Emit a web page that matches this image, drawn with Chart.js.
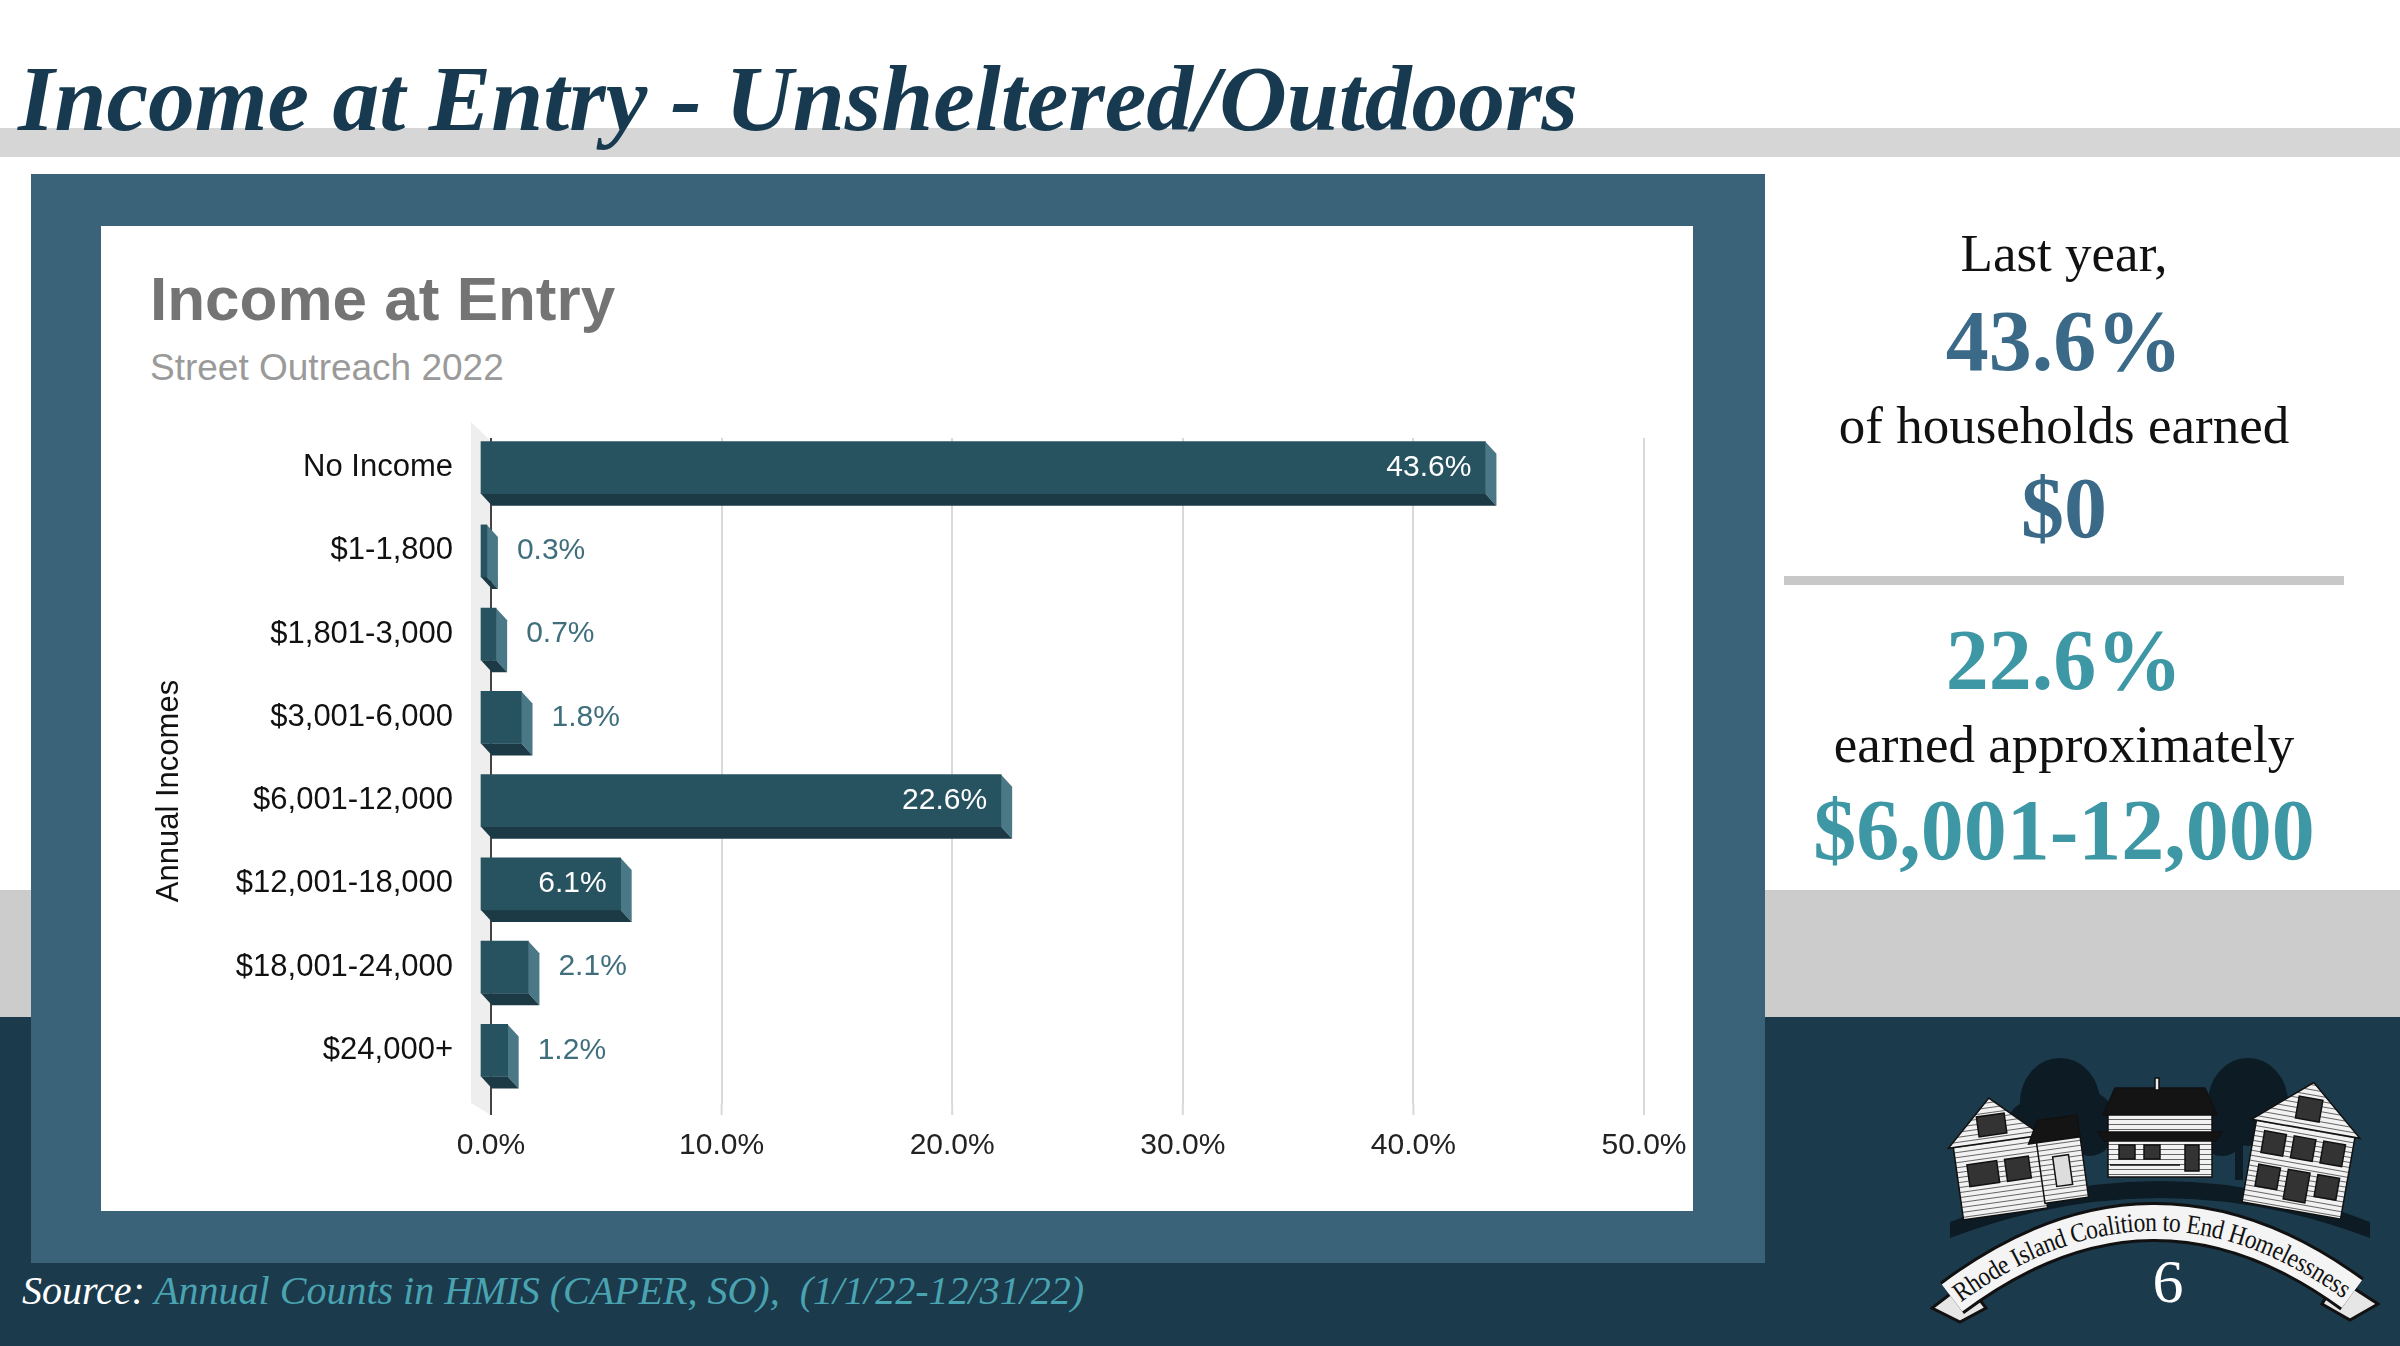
<!DOCTYPE html>
<html>
<head>
<meta charset="utf-8">
<script src="https://cdn.jsdelivr.net/npm/chart.js@4.4.1/dist/chart.umd.min.js"></script>
<style>
  html, body { margin: 0; padding: 0; }
  body { width: 2400px; height: 1346px; position: relative; overflow: hidden; background: #fff; font-family: "Liberation Serif", serif; }
  .abs { position: absolute; }
  #band1 { left: 0; top: 128px; width: 2400px; height: 29px; background: #d6d6d6; }
  #title { left: 18px; top: 52px; font: bold italic 93.6px/1 "Liberation Serif", serif; color: #173a50; white-space: nowrap; }
  #band2 { left: 0; top: 890px; width: 2400px; height: 127px; background: #cccccc; }
  #navy { left: 0; top: 1017px; width: 2400px; height: 329px; background: #1b3a4c; }
  #panel { left: 31px; top: 174px; width: 1734px; height: 1089px; background: #3a6278; }
  #card { left: 101px; top: 226px; width: 1592px; height: 985px; background: #fff; }
  #ctitle { left: 150px; top: 268px; font: bold 62px/1 "Liberation Sans", Arial, sans-serif; color: #747474; white-space: nowrap; }
  #csub { left: 150px; top: 349px; font: 37px/1 "Liberation Sans", Arial, sans-serif; color: #9a9a9a; white-space: nowrap; }
  #chartbox { left: 101px; top: 226px; width: 1592px; height: 985px; }
  .side { left: 1764px; width: 600px; text-align: center; white-space: nowrap; }
  .reg { font: 53px/1 "Liberation Serif", serif; color: #111; }
  .big { font: bold 86px/1 "Liberation Serif", serif; }
  .steel { color: #3a6a88; }
  .teal { color: #3e97a5; }
  #rule { left: 1784px; top: 576px; width: 560px; height: 9px; background: #c8c8c8; }
  #source { left: 22px; top: 1271px; font: italic 40px/1 "Liberation Serif", serif; color: #fff; white-space: nowrap; }
  #source span { color: #4aa3b0; }
  #logo { left: 1930px; top: 1040px; width: 460px; height: 300px; }
</style>
</head>
<body>
<div class="abs" id="band1"></div>
<div class="abs" id="title">Income at Entry - Unsheltered/Outdoors</div>
<div class="abs" id="band2"></div>
<div class="abs" id="navy"></div>
<div class="abs" id="panel"></div>
<div class="abs" id="card"></div>
<div class="abs" id="ctitle">Income at Entry</div>
<div class="abs" id="csub">Street Outreach 2022</div>
<div class="abs" id="chartbox"><canvas id="barChart"></canvas></div>

<div class="abs side reg" style="top:227px">Last year,</div>
<div class="abs side big steel" style="top:298px">43.6%</div>
<div class="abs side reg" style="top:399px">of households earned</div>
<div class="abs side big steel" style="top:465px">$0</div>
<div class="abs" id="rule"></div>
<div class="abs side big teal" style="top:617px">22.6%</div>
<div class="abs side reg" style="top:718px">earned approximately</div>
<div class="abs side big teal" style="top:787px">$6,001-12,000</div>

<div class="abs" id="source">Source: <span>Annual Counts in HMIS (CAPER, SO),&nbsp; (1/1/22-12/31/22)</span></div>

<svg class="abs" id="logo" viewBox="0 0 460 300" xmlns="http://www.w3.org/2000/svg">
  <defs>
    <pattern id="siding" width="6" height="5" patternUnits="userSpaceOnUse">
      <rect width="6" height="5" fill="#f2f2f2"/>
      <line x1="0" y1="4.5" x2="6" y2="4.5" stroke="#555" stroke-width="0.9"/>
    </pattern>
    <path id="rib" d="M 22 258 Q 222 108 422 254"/>
  </defs>
  <!-- trees -->
  <g fill="#0d1b25">
    <ellipse cx="130" cy="62" rx="40" ry="44"/>
    <ellipse cx="104" cy="88" rx="28" ry="28"/>
    <ellipse cx="160" cy="84" rx="26" ry="32"/>
    <rect x="136" y="90" width="8" height="50"/>
    <ellipse cx="318" cy="62" rx="40" ry="44"/>
    <ellipse cx="292" cy="86" rx="26" ry="30"/>
    <ellipse cx="345" cy="88" rx="28" ry="28"/>
    <rect x="305" y="90" width="8" height="50"/>
    <path d="M 20 182 Q 230 100 440 182 L 440 198 Q 230 118 20 198 Z"/>
  </g>
  <!-- center house -->
  <g stroke="#111" stroke-width="1.5">
    <polygon points="185,48 275,48 287,75 173,75" fill="#141414"/>
    <rect x="225" y="38" width="4" height="12" fill="#eee"/>
    <rect x="178" y="75" width="104" height="62" fill="url(#siding)"/>
    <polygon points="168,92 292,92 286,101 174,101" fill="#141414"/>
    <rect x="189" y="105" width="16" height="14" fill="#333"/>
    <rect x="214" y="105" width="16" height="14" fill="#333"/>
    <rect x="255" y="105" width="14" height="26" fill="#333"/>
    <line x1="180" y1="125" x2="250" y2="125"/>
  </g>
  <!-- left house -->
  <g stroke="#111" stroke-width="1.5" transform="rotate(-8 85 115)">
    <rect x="25" y="97" width="85" height="75" fill="url(#siding)"/>
    <polygon points="20,99 67,55 114,99" fill="url(#siding)"/>
    <rect x="108" y="105" width="44" height="62" fill="url(#siding)"/>
    <polygon points="100,106 112,84 152,84 152,106" fill="#141414"/>
    <rect x="52" y="72" width="28" height="20" fill="#333"/>
    <rect x="36" y="118" width="30" height="22" fill="#333"/>
    <rect x="74" y="118" width="24" height="22" fill="#333"/>
    <rect x="122" y="122" width="16" height="30" fill="#ddd"/>
  </g>
  <!-- right house -->
  <g stroke="#111" stroke-width="1.5" transform="rotate(10 375 110)">
    <rect x="322" y="86" width="100" height="86" fill="url(#siding)"/>
    <polygon points="317,89 372,42 427,89" fill="url(#siding)"/>
    <rect x="360" y="58" width="24" height="22" fill="#333"/>
    <rect x="332" y="98" width="22" height="22" fill="#333"/>
    <rect x="362" y="98" width="22" height="22" fill="#333"/>
    <rect x="392" y="98" width="22" height="22" fill="#333"/>
    <rect x="332" y="132" width="22" height="22" fill="#333"/>
    <rect x="362" y="132" width="22" height="30" fill="#333"/>
    <rect x="392" y="132" width="22" height="22" fill="#333"/>
  </g>
  <!-- ribbon -->
  <polygon points="36,242 2,268 30,282 56,268" fill="#e6e6e6" stroke="#111" stroke-width="3"/>
  <polygon points="408,238 448,264 420,280 392,264" fill="#e6e6e6" stroke="#111" stroke-width="3"/>
  <use href="#rib" fill="none" stroke="#111" stroke-width="40"/>
  <use href="#rib" fill="none" stroke="#f4f4f4" stroke-width="34"/>
  <text font-family="Liberation Serif, serif" font-size="27" fill="#111">
    <textPath href="#rib" startOffset="50%" text-anchor="middle" dominant-baseline="central" textLength="425" lengthAdjust="spacingAndGlyphs">Rhode Island Coalition to End Homelessness</textPath>
  </text>
  <text x="238" y="262" font-family="Liberation Serif, serif" font-size="62" fill="#fff" text-anchor="middle">6</text>
</svg>

<script>
  const categories = ["No Income", "$1-1,800", "$1,801-3,000", "$3,001-6,000", "$6,001-12,000", "$12,001-18,000", "$18,001-24,000", "$24,000+"];
  const shares = [43.6, 0.3, 0.7, 1.8, 22.6, 6.1, 2.1, 1.2];
  const xTicks = [0, 10, 20, 30, 40, 50];
  const axisTitle = "Annual Incomes";

  const DX = 11; // depth of the fake 3D boxes
  const DY = 12;

  Chart.defaults.font.family = '"Liberation Sans", Arial, sans-serif';

  // draws the side wall, the box faces, the value labels and the axis title
  const bar3d = {
    id: "bar3d",
    beforeDraw(chart) {
      const { ctx, chartArea: a } = chart;
      ctx.save();
      ctx.fillStyle = "#eeeeee";
      ctx.beginPath();
      ctx.moveTo(a.left - 20, a.top - 16);
      ctx.lineTo(a.left, a.top + 3);
      ctx.lineTo(a.left, a.bottom + 11);
      ctx.lineTo(a.left - 20, a.bottom - 1);
      ctx.closePath();
      ctx.fill();
      ctx.restore();
    },
    beforeDatasetsDraw(chart) {
      const { ctx, chartArea: a } = chart;
      const xs = chart.scales.x;
      // grid lines run a bit below the plot floor
      ctx.save();
      xTicks.forEach((t) => {
        const px = xs.getPixelForValue(t);
        ctx.strokeStyle = t === 0 ? "#444" : "#d9d9d9";
        ctx.lineWidth = 2;
        ctx.beginPath();
        ctx.moveTo(px, a.bottom);
        ctx.lineTo(px, a.bottom + 11);
        ctx.stroke();
      });
      const meta = chart.getDatasetMeta(0);
      meta.data.forEach((el) => {
        const p = el.getProps(["x", "y", "base", "height"], true);
        const top = p.y - p.height / 2;
        const bot = p.y + p.height / 2;
        ctx.fillStyle = "#4b7886";
        ctx.beginPath();
        ctx.moveTo(p.x - DX, top - DY);
        ctx.lineTo(p.x, top);
        ctx.lineTo(p.x, bot);
        ctx.lineTo(p.x - DX, bot - DY);
        ctx.closePath();
        ctx.fill();
        ctx.fillStyle = "#1b3a45";
        ctx.beginPath();
        ctx.moveTo(p.base - DX, bot - DY);
        ctx.lineTo(p.x - DX, bot - DY);
        ctx.lineTo(p.x, bot);
        ctx.lineTo(p.base, bot);
        ctx.closePath();
        ctx.fill();
      });
      ctx.restore();
      // front faces are drawn by Chart.js, shifted forward
      ctx.save();
      ctx.translate(-DX, -DY);
    },
    afterDatasetsDraw(chart) {
      const { ctx } = chart;
      ctx.restore();
      const meta = chart.getDatasetMeta(0);
      ctx.save();
      ctx.font = '30px "Liberation Sans", Arial, sans-serif';
      ctx.textBaseline = "middle";
      meta.data.forEach((el, i) => {
        const p = el.getProps(["x", "y", "base"], true);
        const txt = shares[i].toFixed(1) + "%";
        const w = ctx.measureText(txt).width;
        const cy = p.y - DY;
        if (p.x - p.base > w + 32) {
          ctx.fillStyle = "#ffffff";
          ctx.textAlign = "right";
          ctx.fillText(txt, p.x - DX - 14, cy);
        } else {
          ctx.fillStyle = "#3f6f7d";
          ctx.textAlign = "left";
          ctx.fillText(txt, p.x + 19, cy);
        }
      });
      ctx.restore();
    },
    afterDraw(chart) {
      const { ctx, chartArea: a } = chart;
      const ys = chart.scales.y;
      ctx.save();
      ctx.translate(ys.left + 68, (a.top + a.bottom) / 2 + 20);
      ctx.rotate(-Math.PI / 2);
      ctx.font = '31px "Liberation Sans", Arial, sans-serif';
      ctx.fillStyle = "#111";
      ctx.textAlign = "center";
      ctx.textBaseline = "middle";
      ctx.fillText(axisTitle, 0, 0);
      ctx.restore();
    },
  };

  function createBarChart() {
    const ctx = document.getElementById("barChart").getContext("2d");
    new Chart(ctx, {
      type: "bar",
      data: {
        labels: categories,
        datasets: [
          {
            label: axisTitle,
            data: shares,
            backgroundColor: "#275260",
            borderWidth: 0,
            barThickness: 52,
            clip: false,
          },
        ],
      },
      options: {
        indexAxis: "y",
        responsive: true,
        maintainAspectRatio: false,
        animation: false,
        layout: { padding: { left: 0, top: 212, right: 49, bottom: 0 } },
        plugins: {
          legend: { display: false },
          tooltip: { enabled: false },
        },
        scales: {
          x: {
            min: 0,
            max: 50,
            afterBuildTicks: (scale) => {
              scale.ticks = xTicks.map((v) => ({ value: v }));
            },
            afterFit: (scale) => {
              scale.height = 107;
              scale.paddingLeft = 0;
              scale.paddingRight = 0;
            },
            ticks: {
              padding: 24,
              color: "#222",
              font: { size: 30 },
              callback: (v) => v.toFixed(1) + "%",
            },
            grid: {
              color: (c) => (c.tick && c.tick.value === 0 ? "#444" : "#d9d9d9"),
              lineWidth: 2,
              drawTicks: false,
            },
            border: { display: false },
          },
          y: {
            afterFit: (scale) => {
              scale.width = 390;
            },
            ticks: {
              padding: 38,
              labelOffset: -DY,
              color: "#111",
              font: { size: 31 },
            },
            grid: { display: false, drawTicks: false },
            border: { display: false },
          },
        },
      },
      plugins: [bar3d],
    });
  }

  createBarChart();
</script>
</body>
</html>
